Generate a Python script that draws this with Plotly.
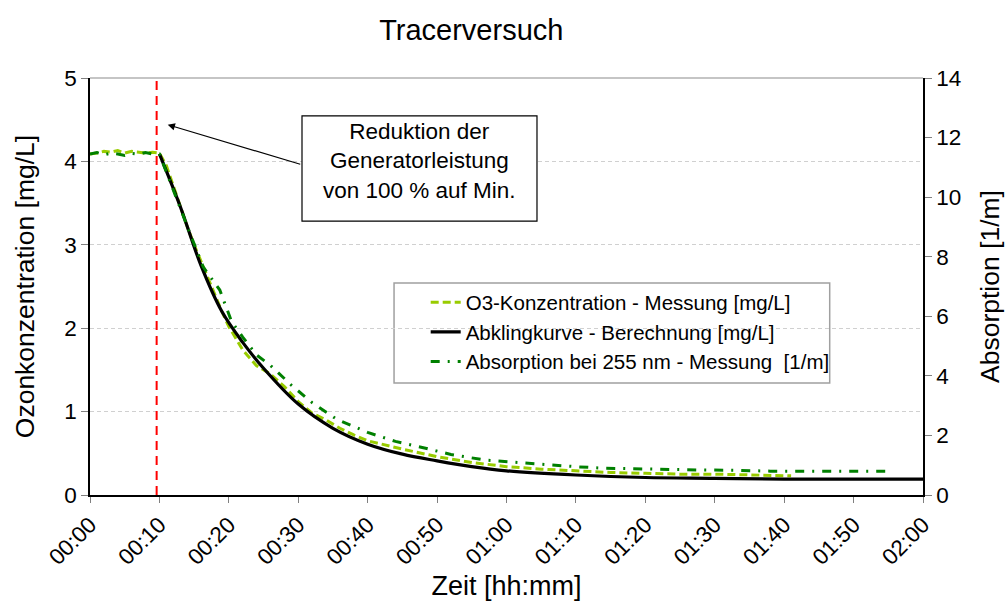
import plotly.graph_objects as go

# ---------------- data ----------------
tick_minutes = [0, 10, 20, 30, 40, 50, 60, 70, 80, 90, 100, 110, 120]
tick_labels = ["00:00", "00:10", "00:20", "00:30", "00:40", "00:50", "01:00",
               "01:10", "01:20", "01:30", "01:40", "01:50", "02:00"]

o3_time = [0, 1, 2, 3, 4, 5, 6, 7, 8, 9, 10, 11, 12, 13, 14, 15, 16, 17, 18, 19,
           20, 22, 24, 26, 28, 30, 32, 34, 36, 38, 40, 45, 50, 55, 60, 65, 70,
           75, 80, 85, 90, 95, 101]
o3_meas = [4.09, 4.10, 4.12, 4.11, 4.13, 4.10, 4.12, 4.11, 4.10, 4.11, 4.10,
           3.95, 3.70, 3.45, 3.22, 3.00, 2.80, 2.58, 2.38, 2.20, 2.02, 1.74,
           1.55, 1.45, 1.30, 1.12, 0.98, 0.90, 0.80, 0.72, 0.65, 0.55, 0.46,
           0.39, 0.34, 0.31, 0.29, 0.27, 0.26, 0.25, 0.25, 0.24, 0.23]

calc_time = [10, 13, 16, 19, 22, 25, 30, 35, 40, 45, 50, 55, 60, 70, 80, 90,
             100, 110, 120]
calc_val = [4.09, 3.46, 2.75, 2.20, 1.83, 1.52, 1.09, 0.80, 0.61, 0.49, 0.41,
            0.34, 0.29, 0.24, 0.21, 0.20, 0.19, 0.19, 0.19]

abs_time = [0, 1, 2, 3, 4, 5, 6, 7, 8, 9, 10, 11.5, 13, 14.6, 16.3, 18.7, 20.4,
            22, 24, 26, 29, 32, 35.5, 40, 44, 48.5, 52, 57, 61, 66, 70, 74, 79,
            83, 88, 93, 98, 103, 108, 115]
abs_val = [11.45, 11.50, 11.42, 11.48, 11.45, 11.40, 11.47, 11.44, 11.50, 11.45,
           11.45, 10.57, 9.63, 8.67, 7.66, 6.88, 5.82, 5.30, 4.70, 4.35, 3.69,
           3.10, 2.55, 2.10, 1.80, 1.56, 1.36, 1.17, 1.10, 1.01, 0.95, 0.90,
           0.87, 0.86, 0.84, 0.83, 0.80, 0.80, 0.79, 0.80]

reduction_time = 9.6          # time of generator power reduction (minutes)
arrow_target = (11.2, 4.44)   # point the annotation arrow refers to

FONT = "Liberation Sans, Arial, sans-serif"

fig = go.Figure()

fig.add_trace(go.Scatter(
    x=o3_time, y=o3_meas, mode="lines", name="O3-Konzentration - Messung [mg/L]",
    line=dict(color="#99CC00", width=3, dash="8px,4px"), legendgroup="a"))
fig.add_trace(go.Scatter(
    x=calc_time, y=calc_val, mode="lines", name="Abklingkurve - Berechnung [mg/L]",
    line=dict(color="#000000", width=3.2, shape="spline"), legendgroup="b"))
fig.add_trace(go.Scatter(
    x=abs_time, y=abs_val, mode="lines", yaxis="y2",
    name="Absorption bei 255 nm - Messung&nbsp;&nbsp;[1/m]",
    line=dict(color="#008000", width=3, dash="9px,8px,2px,8px"), legendgroup="c"))

fig.update_layout(
    width=1007, height=601,
    margin=dict(l=90, r=84, t=78, b=106),
    paper_bgcolor="white", plot_bgcolor="white",
    font=dict(family=FONT, size=22, color="black"),
    title=dict(text="Tracerversuch", x=0.468, xref="container", xanchor="center",
               y=0.95, yref="container", yanchor="middle",
               font=dict(size=29, family=FONT, color="black")),
    showlegend=True,
    legend=dict(x=0.403, y=0.51, xanchor="left", yanchor="top",
                bgcolor="rgba(0,0,0,0)", borderwidth=0,
                font=dict(size=20.5, family=FONT), tracegroupgap=0),
    xaxis=dict(range=[0, 120], tickvals=tick_minutes, ticktext=tick_labels,
               tickangle=-45, ticks="outside", ticklen=6, tickcolor="#808080",
               showline=True, linecolor="black", linewidth=1.5,
               showgrid=False, zeroline=False, automargin=False,
               title=dict(text="Zeit [hh:mm]", font=dict(size=27), standoff=15),
               tickfont=dict(size=22.5)),
    yaxis=dict(range=[0, 5], dtick=1, ticks="outside", ticklen=7,
               tickcolor="#808080", showline=True, linecolor="black",
               linewidth=1.5, showgrid=True, gridcolor="#D0D0D0",
               griddash="4px,3px", zeroline=False, automargin=False,
               title=dict(text="Ozonkonzentration [mg/L]", font=dict(size=26.5),
                          standoff=22),
               tickfont=dict(size=22.5)),
    yaxis2=dict(range=[0, 14], dtick=2, overlaying="y", side="right",
                ticks="outside", ticklen=7, tickcolor="#808080",
                showline=True, linecolor="black", linewidth=1.5,
                showgrid=False, zeroline=False, automargin=False,
                title=dict(text="Absorption [1/m]", font=dict(size=26.5),
                           standoff=20),
                tickfont=dict(size=22.5)),
    shapes=[
        dict(type="line", xref="x", yref="paper", x0=reduction_time,
             x1=reduction_time, y0=0, y1=1,
             line=dict(color="#FF0000", width=2, dash="9px,6px")),
        dict(type="line", xref="paper", yref="paper", x0=0, x1=1, y0=1, y1=1,
             line=dict(color="#8C8C8C", width=1.2)),
        dict(type="rect", xref="paper", yref="paper", x0=0.365, x1=0.888,
             y0=0.2686, y1=0.5084, line=dict(color="#A0A0A0", width=1.5),
             layer="below"),
        dict(type="rect", xref="paper", yref="paper", x0=0.2545, x1=0.5366,
             y0=0.657, y1=0.909, line=dict(color="black", width=1.2),
             fillcolor="white", layer="above"),
    ],
    annotations=[
        dict(text="", x=arrow_target[0], y=arrow_target[1], xref="x", yref="y",
             showarrow=True, ax=134, ay=40, axref="pixel", ayref="pixel",
             arrowhead=2, arrowsize=1.2, arrowwidth=1.2, arrowcolor="black"),
        dict(text="Reduktion der<br>Generatorleistung<br>von 100 % auf Min.",
             x=0.3956, y=0.80, xref="paper", yref="paper",
             xanchor="center", yanchor="middle", showarrow=False,
             align="center", font=dict(size=22.5, family=FONT)),
    ],
)

fig.write_html("out.html")
